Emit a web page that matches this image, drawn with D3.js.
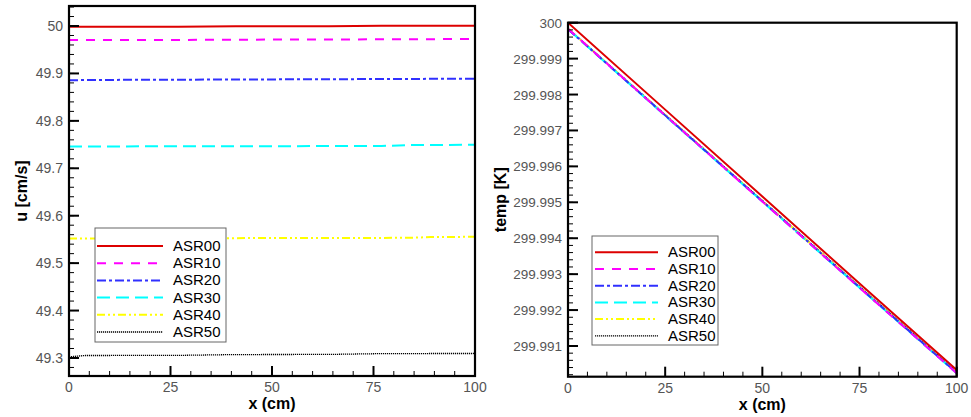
<!DOCTYPE html>
<html><head><meta charset="utf-8">
<script src="https://cdn.jsdelivr.net/npm/d3@7"></script>
<style>body{margin:0;background:#fff}svg{display:block}text{font-family:"Liberation Sans",Arial,sans-serif}</style>
</head><body><svg id="c" width="971" height="417"></svg>
<script>
// ---- data ----
const seriesNames = ["ASR00","ASR10","ASR20","ASR30","ASR40","ASR50"];
const xTickLabels = [0,25,50,75,100];
const uTickLabels = [49.3,49.4,49.5,49.6,49.7,49.8,49.9,50];
const tTickLabels = [299.991,299.992,299.993,299.994,299.995,299.996,299.997,299.998,299.999,300];

const xU = [0, 4, 27, 41, 64, 77, 84, 89, 100];
const uASR00 = [49.9985,49.9985,49.9986,49.9993,49.9996,50.0003,50.0003,50.0004,50.0005];
const uASR10 = [49.9705,49.9705,49.9706,49.9712,49.9716,49.9720,49.9722,49.9723,49.9725];
const uASR20 = [49.8855,49.8862,49.8868,49.8872,49.8878,49.8882,49.8884,49.8886,49.8890];
const uASR30 = [49.7460,49.7461,49.7463,49.7465,49.7468,49.7470,49.7490,49.7492,49.7495];
const uASR40 = [49.5520,49.5521,49.5524,49.5527,49.5530,49.5532,49.5535,49.5550,49.5555];
const uASR50 = [49.3025,49.3052,49.3055,49.3072,49.3075,49.3092,49.3093,49.3094,49.3095];

const xT = [0, 25, 50, 75, 100];
const tASR00 = [300.00000,299.99758,299.99516,299.99274,299.99033];
const tASR10 = [299.99983,299.99742,299.99502,299.99262,299.99024];
const tASR20 = [299.99982,299.99742,299.99503,299.99263,299.99025];
const tASR30 = [299.99982,299.99741,299.99502,299.99262,299.99024];
const tASR40 = [299.99983,299.99743,299.99504,299.99264,299.99026];
const tASR50 = [299.99984,299.99744,299.99505,299.99266,299.99028];

const uSeries = [uASR00,uASR10,uASR20,uASR30,uASR40,uASR50];
const tSeries = [tASR00,tASR10,tASR20,tASR30,tASR40,tASR50];

// ---- styles ----
const colors = ["#dd0000","#ff00ff","#3030ff","#00ffff","#ffff00","#000000"];
const dashes = ["none","9,8","9,3,3,3","13,6","8,3,2,3,2,3","1.2,0.8"];
const widths = [2,2,2,2,2,1.3];

const svg = d3.select("#c");

function panel(opt){
  const {L,R,T,B,yDomain,yMajor,yMinorStep,yMinorStart,xs,ys,fmt,labelY,labelX,tickFont,legend} = opt;
  const g = svg.append("g");
  const x = d3.scaleLinear().domain([0,100]).range([L,R]);
  const y = d3.scaleLinear().domain(yDomain).range([B,T]);
  const clipId = "clip"+L;
  svg.append("clipPath").attr("id",clipId).append("rect").attr("x",L).attr("y",T-1).attr("width",R-L+1).attr("height",B-T+2);
  const line = d3.line().x(d=>x(d[0])).y(d=>y(d[1]));
  const lg = g.append("g").attr("clip-path",`url(#${clipId})`);
  for(let i=ys.length-1;i>=0;i--){
    lg.append("path").attr("d",line(xs.map((v,j)=>[v,ys[i][j]])))
      .attr("fill","none").attr("stroke",colors[i]).attr("stroke-width",widths[i])
      .attr("stroke-dasharray",dashes[i]);
  }
  const xMinor = d3.range(0,101,5);
  g.selectAll(null).data(xMinor).enter().append("line")
    .attr("x1",d=>x(d)).attr("x2",d=>x(d)).attr("y1",B)
    .attr("y2",d=>xTickLabels.includes(d)?B-10:B-5).attr("stroke","#000").attr("stroke-width",d=>xTickLabels.includes(d)?2:1);
  g.selectAll(null).data(xTickLabels).enter().append("text")
    .attr("x",d=>x(d)).attr("y",B+16).attr("text-anchor","middle")
    .attr("font-size",14).attr("fill","#555").text(d=>d);
  const yMinor = [];
  for(let v=yMinorStart; v<=yDomain[1]+1e-9; v+=yMinorStep) if(v>=yDomain[0]) yMinor.push(v);
  g.selectAll(null).data(yMinor).enter().append("line")
    .attr("x1",L).attr("x2",L+5).attr("y1",d=>y(d)).attr("y2",d=>y(d)).attr("stroke","#000").attr("stroke-width",1);
  g.selectAll(null).data(yMajor).enter().append("line")
    .attr("x1",L).attr("x2",L+10).attr("y1",d=>y(d)).attr("y2",d=>y(d)).attr("stroke","#000").attr("stroke-width",2);
  g.selectAll(null).data(yMajor).enter().append("text")
    .attr("x",L-6).attr("y",d=>y(d)+5).attr("text-anchor","end")
    .attr("font-size",tickFont).attr("fill","#555").text(fmt);
  g.append("rect").attr("x",L).attr("y",T).attr("width",R-L).attr("height",B-T)
    .attr("fill","none").attr("stroke","#000").attr("stroke-width",2.2);
  g.append("text").attr("x",(L+R)/2).attr("y",B+33).attr("text-anchor","middle")
    .attr("font-size",16).attr("font-weight","bold").text("x (cm)");
  g.append("text").attr("transform",`translate(${labelX},${(T+B)/2}) rotate(-90)`)
    .attr("text-anchor","middle").attr("font-size",16).attr("font-weight","bold").text(labelY);
  const lgd = legend;
  g.append("rect").attr("x",lgd.x0).attr("y",lgd.y0).attr("width",lgd.x1-lgd.x0).attr("height",lgd.y1-lgd.y0)
    .attr("fill","#fff").attr("stroke","#666").attr("stroke-width",1);
  seriesNames.forEach((n,i)=>{
    const yy = lgd.r0 + i*lgd.dr;
    g.append("line").attr("x1",lgd.s0).attr("x2",lgd.s1).attr("y1",yy).attr("y2",yy)
      .attr("stroke",colors[i]).attr("stroke-width",widths[i]).attr("stroke-dasharray",dashes[i]);
    g.append("text").attr("x",lgd.tx).attr("y",yy+5).attr("font-size",15).attr("fill","#000").text(n);
  });
}

panel({L:69,R:475,T:6,B:376,yDomain:[49.262,50.0422],yMajor:uTickLabels,yMinorStep:0.02,yMinorStart:49.28,
  xs:xU,ys:uSeries,fmt:d=>d3.format("")(d),labelY:"u [cm/s]",labelX:27,tickFont:14,
  legend:{x0:95,x1:226,y0:228,y1:342,r0:246,dr:17.2,s0:97,s1:163,tx:173}});
panel({L:568,R:956.7,T:22.7,B:376.7,yDomain:[299.990145,300],yMajor:tTickLabels,yMinorStep:0.0002,yMinorStart:299.9902,
  xs:xT,ys:tSeries,fmt:d=>d3.format("")(d),labelY:"temp [K]",labelX:506,tickFont:13.5,
  legend:{x0:592,x1:718,y0:236,y1:345,r0:252.3,dr:16.7,s0:595,s1:658,tx:668}});
</script></body></html>
